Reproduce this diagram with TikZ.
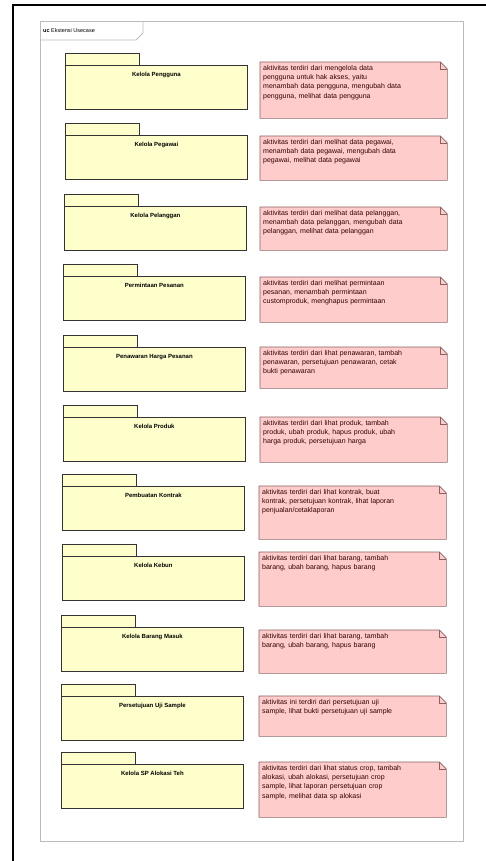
\documentclass[tikz,border=0pt]{standalone}
\usepackage{fontspec}
\setmainfont{Liberation Sans}
\usepackage{xcolor}
\usepackage{tikz}
\usetikzlibrary{positioning,calc}

\definecolor{pkgfill}{HTML}{FFFFCC}
\definecolor{notefill}{HTML}{FFCCCC}
\definecolor{notedraw}{HTML}{8C5F5F}
\definecolor{framegray}{HTML}{BBBBBB}

\tikzset{
  pkg/.style={draw=black!80, fill=pkgfill, line width=0.8pt, anchor=north west,
    minimum width=182pt, inner xsep=0pt, inner ysep=0pt, text height=11pt, text depth=33pt,
    font=\fontsize{6}{7}\selectfont\bfseries},
  pkgtab/.style={draw=black!80, fill=pkgfill, line width=0.8pt},
  note/.style={fill=notefill, anchor=north west, text width=181pt, align=left,
    inner xsep=3pt, inner ysep=2pt, text height=6pt, text depth=#1,
    font=\fontsize{7}{9.3}\selectfont, text=black!80!red},
  notebd/.style={draw=notedraw, line width=0.6pt}
}

\begin{document}
\begin{tikzpicture}[x=1pt, y=-1pt]
\useasboundingbox (0,0) rectangle (486,861);
\draw[black, line width=1.5pt](13,861) -- (13,5) -- (486,5);
\draw[framegray, line width=0.8pt](40,21) rectangle (463,841);
\draw[framegray, line width=0.8pt](40,40) -- (136,40) -- (143,33) -- (143,21);
\node[anchor=west, inner sep=0pt, font=\fontsize{5.5}{6}\selectfont] (title) at (43,30.5) {\textbf{uc} Ekstensi Usecase};

\node[pkg] (p1) at (65,65) {Kelola Pengguna};
\node[pkg] (p2) at (65,135) {Kelola Pegawai};
\node[pkg] (p3) at (64,206) {Kelola Pelanggan};
\node[pkg] (p4) at (63,276) {Permintaan Pesanan};
\node[pkg] (p5) at (63,347) {Penawaran Harga Pesanan};
\node[pkg] (p6) at (63,417) {Kelola Produk};
\node[pkg] (p7) at (62,486) {Pembuatan Kontrak};
\node[pkg] (p8) at (62,556) {Kelola Kebun};
\node[pkg] (p9) at (61,627) {Kelola Barang Masuk};
\node[pkg] (p10) at (61,696) {Persetujuan Uji Sample};
\node[pkg] (p11) at (61,764) {Kelola SP Alokasi Teh};
\foreach \i in {1,...,11}
  \draw[pkgtab] (p\i.north west) rectangle ++(74,-12);

\node[note=46pt] (n1) at (260,62) {aktivitas terdiri dari mengelola data\\pengguna untuk hak akses, yaitu\\menambah data pengguna, mengubah data\\pengguna, melihat data pengguna};
\node[note=34pt] (n2) at (260,136) {aktivitas terdiri dari melihat data pegawai,\\menambah data pegawai, mengubah data\\pegawai, melihat data pegawai};
\node[note=33pt] (n3) at (260,207) {aktivitas terdiri dari melihat data pelanggan,\\menambah data pelanggan, mengubah data\\pelanggan, melihat data pelanggan};
\node[note=35pt] (n4) at (260,277) {aktivitas terdiri dari melihat permintaan\\pesanan, menambah permintaan\\customproduk, menghapus permintaan};
\node[note=31pt] (n5) at (260,347) {aktivitas terdiri dari lihat penawaran, tambah\\penawaran, persetujuan penawaran, cetak\\bukti penawaran};
\node[note=35pt] (n6) at (260,417) {aktivitas terdiri dari lihat produk, tambah\\produk, ubah produk, hapus produk, ubah\\harga produk, persetujuan harga};
\node[note=43pt] (n7) at (259,486) {aktivitas terdiri dari lihat kontrak, buat\\kontrak, persetujuan kontrak, lihat laporan\\penjualan/cetaklaporan};
\node[note=44pt] (n8) at (259,552) {aktivitas terdiri dari lihat barang, tambah\\barang, ubah barang, hapus barang};
\node[note=33pt] (n9) at (259,630) {aktivitas terdiri dari lihat barang, tambah\\barang, ubah barang, hapus barang};
\node[note=30pt] (n10) at (259,696) {aktivitas ini terdiri dari persetujuan uji\\sample, lihat bukti persetujuan uji sample};
\node[note=45pt] (n11) at (259,762) {aktivitas terdiri dari lihat status crop, tambah\\alokasi, ubah alokasi, persetujuan crop\\sample, lihat laporan persetujuan crop\\sample, melihat data sp alokasi};
\foreach \i in {1,...,11} {
  \fill[white] ($(n\i.north east)+(-7,0)$) -- (n\i.north east) -- ($(n\i.north east)+(0,7)$) -- cycle;
  \draw[notebd] (n\i.north west) -- ($(n\i.north east)+(-7,0)$) -- ($(n\i.north east)+(0,7)$) -- (n\i.south east) -- (n\i.south west) -- cycle;
  \draw[notebd] ($(n\i.north east)+(-7,0)$) -- ++(0,7) -- ++(7,0);
}
\end{tikzpicture}
\end{document}
